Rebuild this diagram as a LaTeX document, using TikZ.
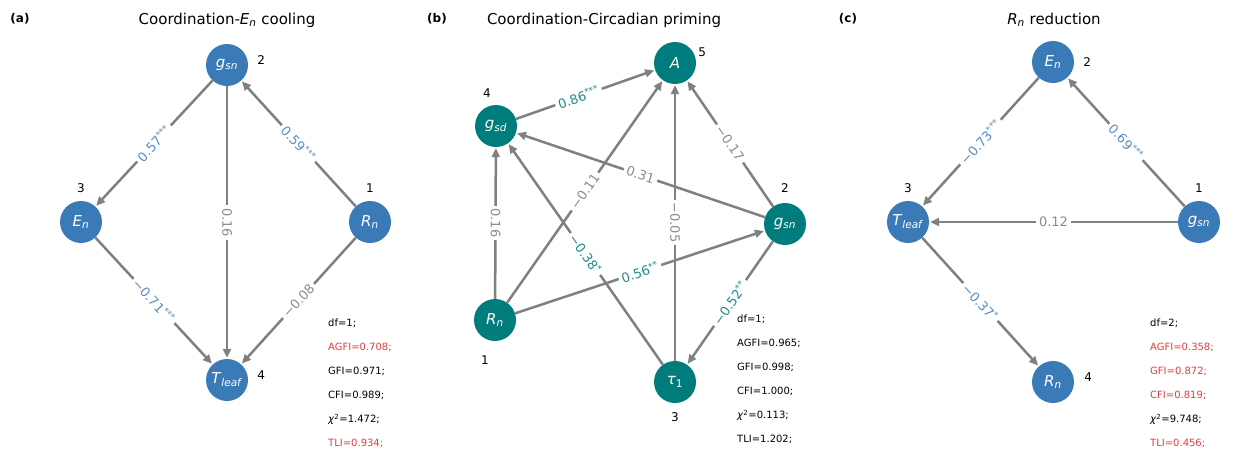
\documentclass[tikz,border=0pt]{standalone}
\usepackage{fontspec}
\setmainfont{DejaVu Sans}
\usepackage{tikz}
\usetikzlibrary{shapes,arrows.meta}
\definecolor{nodeblue}{RGB}{58,122,182}
\definecolor{nodeteal}{RGB}{0,124,124}
\definecolor{edgegray}{RGB}{128,128,128}
\definecolor{labblue}{RGB}{88,142,200}
\definecolor{labteal}{RGB}{34,140,140}
\definecolor{labgray}{RGB}{140,140,140}
\definecolor{statred}{RGB}{230,60,60}
\newcommand{\sig}[1]{\textsuperscript{#1}}

\begin{document}
\begin{tikzpicture}[x=1pt,y=-1pt,
  bnode/.style={circle,fill=nodeblue,text=white,minimum size=42pt,inner sep=0pt,font=\fontsize{15}{15}\selectfont},
  tnode/.style={bnode,fill=nodeteal},
  num/.style={inner sep=0pt,font=\fontsize{12}{12}\selectfont},
  conn/.style={draw=edgegray,line width=2.5pt,-{Triangle[length=9pt,width=8pt]},shorten >=1pt},
  elab/.style={midway,fill=white,inner sep=3pt,font=\fontsize{13}{13}\selectfont},
  wlab/.style={elab,sloped},
  vlab/.style={elab,rotate=-90},
  stats/.style={anchor=north west,inner sep=0pt,align=left,font=\fontsize{10}{24}\selectfont},
  ttl/.style={font=\fontsize{15}{15}\selectfont},
  tag/.style={font=\fontsize{12}{12}\selectfont\bfseries}]
\useasboundingbox (0,0) rectangle (1233,453);
%Titles
\node [tag] at (20,19) (aTag) {(a)};
\node [ttl] at (227,20) (aTitle) {Coordination-\textit{E}\textsubscript{\textit{n}} cooling};
\node [tag] at (437,19) (bTag) {(b)};
\node [ttl] at (604,20) (bTitle) {Coordination-Circadian priming};
\node [tag] at (848,19) (cTag) {(c)};
\node [ttl] at (1054,20) (cTitle) {\textit{R}\textsubscript{\textit{n}} reduction};

%Node Coordinates (a)
\node at (227,65) [bnode] (aNode2) {\textit{g}\textsubscript{\textit{sn}}};
\node at (81,222) [bnode] (aNode3) {\textit{E}\textsubscript{\textit{n}}};
\node at (370,222) [bnode] (aNode1) {\textit{R}\textsubscript{\textit{n}}};
\node at (227,380) [bnode] (aNode4) {\textit{T}\textsubscript{\textit{leaf}}};
%Node Labels (a)
\node [num,right=9pt,yshift=5pt] at (aNode2.east) {2};
\node [num,above=8pt] at (aNode3.north) {3};
\node [num,above=8pt] at (aNode1.north) {1};
\node [num,right=9pt,yshift=5pt] at (aNode4.east) {4};
%connections (a)
\draw [conn] (aNode2) -- (aNode3) node [wlab,text=labblue] {0.57\sig{***}};
\draw [conn] (aNode1) -- (aNode2) node [wlab,text=labblue] {0.59\sig{***}};
\draw [conn] (aNode2) -- (aNode4) node [vlab,text=labgray] {0.16};
\draw [conn] (aNode3) -- (aNode4) node [wlab,text=labblue] {−0.71\sig{***}};
\draw [conn] (aNode1) -- (aNode4) node [wlab,text=labgray] {−0.08};
% Fit indices (a)
\node [stats] at (328,319) {df=1;\\\textcolor{statred}{AGFI=0.708;}\\GFI=0.971;\\CFI=0.989;\\\textit{χ}\textsuperscript{2}=1.472;\\\textcolor{statred}{TLI=0.934;}};

%Node Coordinates (b)
\node at (675,63) [tnode] (bNode5) {\textit{A}};
\node at (496,126) [tnode] (bNode4) {\textit{g}\textsubscript{\textit{sd}}};
\node at (785,224) [tnode] (bNode2) {\textit{g}\textsubscript{\textit{sn}}};
\node at (495,320) [tnode] (bNode1) {\textit{R}\textsubscript{\textit{n}}};
\node at (675,382) [tnode] (bNode3) {\textit{τ}\textsubscript{1}};
%Node Labels (b)
\node [num,right=2pt,yshift=11pt] at (bNode5.east) {5};
\node [num,above=7pt,xshift=-9pt] at (bNode4.north) {4};
\node [num,above=10pt] at (bNode2.north) {2};
\node [num,below=14pt,xshift=-10pt] at (bNode1.south) {1};
\node [num,below=9pt] at (bNode3.south) {3};
%connections (b)
\draw [conn] (bNode4) -- (bNode5) node [wlab,pos=0.45,text=labteal] {0.86\sig{***}};
\draw [conn] (bNode1) -- (bNode5) node [wlab,text=labgray] {−0.11};
\draw [conn] (bNode3) -- (bNode5) node [vlab,text=labgray] {−0.05};
\draw [conn] (bNode2) -- (bNode5) node [wlab,text=labgray] {−0.17};
\draw [conn] (bNode2) -- (bNode4) node [wlab,text=labgray] {0.31};
\draw [conn] (bNode1) -- (bNode4) node [vlab,text=labgray] {0.16};
\draw [conn] (bNode3) -- (bNode4) node [wlab,text=labteal] {−0.38\sig{*}};
\draw [conn] (bNode1) -- (bNode2) node [wlab,text=labteal] {0.56\sig{**}};
\draw [conn] (bNode2) -- (bNode3) node [wlab,text=labteal] {−0.52\sig{**}};
% Fit indices (b)
\node [stats] at (737,315) {df=1;\\AGFI=0.965;\\GFI=0.998;\\CFI=1.000;\\\textit{χ}\textsuperscript{2}=0.113;\\TLI=1.202;};

%Node Coordinates (c)
\node at (1053,62) [bnode] (cNode2) {\textit{E}\textsubscript{\textit{n}}};
\node at (908,222) [bnode] (cNode3) {\textit{T}\textsubscript{\textit{leaf}}};
\node at (1199,222) [bnode] (cNode1) {\textit{g}\textsubscript{\textit{sn}}};
\node at (1053,382) [bnode] (cNode4) {\textit{R}\textsubscript{\textit{n}}};
%Node Labels (c)
\node [num,right=9pt] at (cNode2.east) {2};
\node [num,above=8pt] at (cNode3.north) {3};
\node [num,above=8pt] at (cNode1.north) {1};
\node [num,right=10pt,yshift=5pt] at (cNode4.east) {4};
%connections (c)
\draw [conn] (cNode2) -- (cNode3) node [wlab,text=labblue] {−0.73\sig{***}};
\draw [conn] (cNode1) -- (cNode2) node [wlab,text=labblue] {0.69\sig{***}};
\draw [conn] (cNode1) -- (cNode3) node [wlab,text=labgray] {0.12};
\draw [conn] (cNode3) -- (cNode4) node [wlab,text=labblue] {−0.37\sig{*}};
% Fit indices (c)
\node [stats] at (1150,319) {df=2;\\\textcolor{statred}{AGFI=0.358;}\\\textcolor{statred}{GFI=0.872;}\\\textcolor{statred}{CFI=0.819;}\\\textit{χ}\textsuperscript{2}=9.748;\\\textcolor{statred}{TLI=0.456;}};

\end{tikzpicture}
\end{document}
